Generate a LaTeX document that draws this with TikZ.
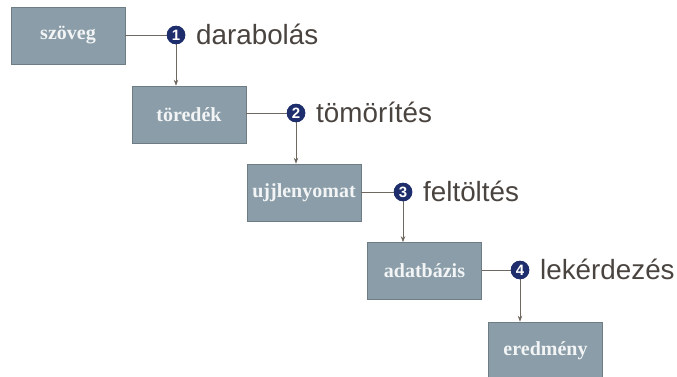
\documentclass[tikz,border=0pt]{standalone}
\usepackage{fontspec}
\setmainfont{Liberation Serif}
\newfontfamily\lblfont{Liberation Sans}
\usetikzlibrary{arrows.meta,calc}
\definecolor{boxfill}{HTML}{8A9DA8}
\definecolor{boxline}{HTML}{6E7C84}
\definecolor{circfill}{HTML}{1E2D6B}
\definecolor{lbltext}{HTML}{4A4440}
\definecolor{conn}{HTML}{6F6860}
\definecolor{boxtext}{HTML}{F2F4F5}
\tikzset{
  stagebox/.style={draw=boxline, line width=0.6pt, fill=boxfill, minimum width=114pt, minimum height=57pt, inner sep=0pt,
    text=boxtext, font=\fontsize{20}{20}\selectfont\bfseries},
  numcirc/.style={circle, fill=circfill, minimum size=18.5pt, inner sep=0pt, text=white,
    font=\lblfont\fontsize{15}{15}\selectfont\bfseries},
  steplabel/.style={anchor=base west, text=lbltext, inner sep=0pt, font=\lblfont\fontsize{27.8}{28}\selectfont},
  connline/.style={draw=conn, line width=0.7pt},
  connarrow/.style={draw=conn, line width=0.7pt, -{Stealth[length=6pt,width=4.5pt]}}
}
\begin{document}
\begin{tikzpicture}[x=1pt,y=1pt]
\useasboundingbox (0,0) rectangle (677,376);
\node[stagebox] (b1) at (68,340.5) {szöveg};
\node[stagebox] (b2) at (189,261.5) {töredék};
\node[stagebox] (b3) at (304,183.5) {ujjlenyomat};
\node[stagebox] (b4) at (424.5,105) {adatbázis};
\node[stagebox] (b5) at (545.5,25.5) {eredmény};
\node[numcirc] (c1) at (176,341) {1};
\node[numcirc] (c2) at (296,263) {2};
\node[numcirc] (c3) at (403,184) {3};
\node[numcirc] (c4) at (520,106) {4};
\node[steplabel] (l1) at (196,332) {darabolás};
\node[steplabel] (l2) at (316,254) {tömörítés};
\node[steplabel] (l3) at (423,175) {feltöltés};
\node[steplabel] (l4) at (540,97) {lekérdezés};
\draw[connline] (b1.east |- c1) -- (c1);
\draw[connline] (b2.east |- c2) -- (c2);
\draw[connline] (b3.east |- c3) -- (c3);
\draw[connline] (b4.east |- c4) -- (c4);
\draw[connarrow] (c1) -- (c1 |- b2.north);
\draw[connarrow] (c2) -- (c2 |- b3.north);
\draw[connarrow] (c3) -- (c3 |- b4.north);
\draw[connarrow] (c4) -- (c4 |- b5.north);
\node[numcirc] at (c1) {1};
\node[numcirc] at (c2) {2};
\node[numcirc] at (c3) {3};
\node[numcirc] at (c4) {4};
\end{tikzpicture}
\end{document}
